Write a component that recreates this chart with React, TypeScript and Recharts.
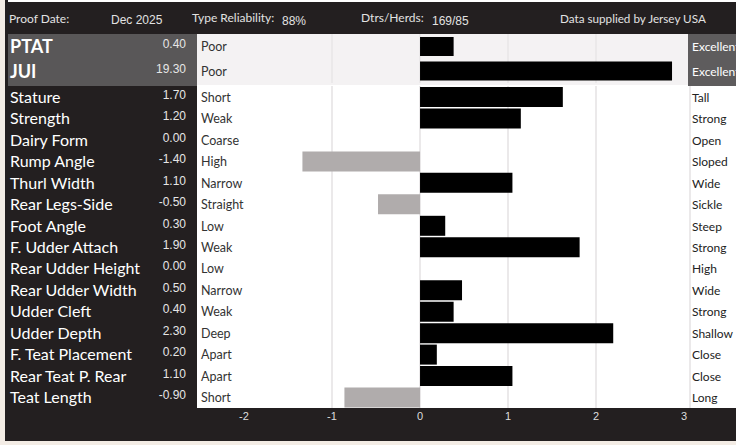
import React from "react";
import { BarChart, Bar, XAxis, YAxis, CartesianGrid, Cell } from "recharts";

// top summary rows
const summaryNames = ["PTAT", "JUI"];
const summaryValues = [0.4, 19.3];
const summaryLow = ["Poor", "Poor"];
const summaryHigh = ["Excellent", "Excellent"];

// linear type traits
const traitNames = [
  "Stature", "Strength", "Dairy Form", "Rump Angle", "Thurl Width", "Rear Legs-Side",
  "Foot Angle", "F. Udder Attach", "Rear Udder Height", "Rear Udder Width", "Udder Cleft",
  "Udder Depth", "F. Teat Placement", "Rear Teat P. Rear", "Teat Length",
];
const traitValues = [1.7, 1.2, 0.0, -1.4, 1.1, -0.5, 0.3, 1.9, 0.0, 0.5, 0.4, 2.3, 0.2, 1.1, -0.9];
const traitLow = [
  "Short", "Weak", "Coarse", "High", "Narrow", "Straight", "Low", "Weak", "Low",
  "Narrow", "Weak", "Deep", "Apart", "Apart", "Short",
];
const traitHigh = [
  "Tall", "Strong", "Open", "Sloped", "Wide", "Sickle", "Steep", "Strong", "High",
  "Wide", "Strong", "Shallow", "Close", "Close", "Long",
];
const axisTicks = [-2, -1, 0, 1, 2, 3];
const gridValues = [-1, 0, 1, 2];

const BAR_CAP = 3;
const BAR_DOMAIN: [number, number] = [-2.655, 3.202];
const GRID_DOMAIN: [number, number] = [-2.534, 3.057];

const LATO = "Lato, sans-serif";
const ARIAL = "'Liberation Sans', Arial, sans-serif";
const DARK = "#231f20";
const GRID = "#ebe9ea";

const toRows = (names: string[], values: number[]) =>
  names.map((name, i) => ({ name, value: values[i], bar: Math.min(values[i], BAR_CAP) }));

const summaryRows = toRows(summaryNames, summaryValues);
const traitRows = toRows(traitNames, traitValues);

function makeTick(names: string[], values: number[], lows: string[], highs: string[], big: boolean) {
  return (props: any) => {
    const { y, payload } = props;
    const i = payload.index;
    return (
      <g>
        <text x={10} y={y} dy={big ? 7 : 6} fill="#fff" fontFamily={LATO}
          fontSize={big ? 18 : 16} fontWeight={big ? 700 : 400}>
          {names[i]}
        </text>
        <text x={186} y={y} dy={2} textAnchor="end" fill="#e6e6e6" fontFamily={ARIAL} fontSize={12}>
          {values[i].toFixed(2)}
        </text>
        <text x={201} y={y} dy={5} fill="#333" fontFamily={LATO} fontSize={12.5}>
          {lows[i]}
        </text>
        <text x={692} y={y} dy={5} fill={big ? "#fff" : "#222"} fontFamily={LATO} fontSize={12}>
          {highs[i]}
        </text>
      </g>
    );
  };
}

function TraitChart({ rows, names, values, lows, highs, big, height, showAxis }: any) {
  return (
    <BarChart
      layout="vertical"
      width={736}
      height={height}
      data={rows}
      margin={{ top: 0, right: 47, bottom: 0, left: 0 }}
      barCategoryGap={0}
    >
      <CartesianGrid
        horizontal={false}
        xAxisId="grid"
        yAxisId="left"
        verticalValues={gridValues}
        stroke={GRID}
        strokeWidth={2}
      />
      <XAxis xAxisId="bar" orientation="top" height={0} type="number" domain={BAR_DOMAIN} allowDataOverflow hide />
      <XAxis
        xAxisId="grid"
        type="number"
        domain={GRID_DOMAIN}
        ticks={axisTicks}
        allowDataOverflow
        hide={!showAxis}
        height={showAxis ? 33 : 0}
        axisLine={false}
        tickLine={false}
        tickSize={0}
        tickMargin={4}
        tick={{ fill: "#dddddd", fontSize: 11, fontFamily: ARIAL }}
      />
      <YAxis
        yAxisId="left"
        type="category"
        dataKey="name"
        width={197}
        interval={0}
        axisLine={false}
        tickLine={false}
        tick={makeTick(names, values, lows, highs, big)}
      />
      <Bar dataKey="bar" xAxisId="bar" yAxisId="left" barSize={big ? 19 : 20} isAnimationActive={false}>
        {rows.map((r: any, i: number) => (
          <Cell key={i} fill={r.value < 0 ? "#b0acac" : "#000000"} />
        ))}
      </Bar>
    </BarChart>
  );
}

const abs = (s: React.CSSProperties): React.CSSProperties => ({ position: "absolute", ...s });

export default function App() {
  const head = (text: string, left: number, center: number, font: string, size: number) => (
    <div style={abs({ left, top: center - 9, lineHeight: "18px", fontSize: size, fontFamily: font, color: "#e2e2e2", whiteSpace: "nowrap" })}>
      {text}
    </div>
  );
  return (
    <div style={abs({ left: 0, top: 0, width: 736, height: 445, overflow: "hidden", background: "#f3ece5" })}>
      <div style={abs({ left: 5, top: 0, width: 731, height: 441, background: DARK })} />
      <div style={abs({ left: 8, top: 0, width: 728, height: 2, background: "#fff" })} />
      {head("Proof Date:", 9, 19, LATO, 12)}
      {head("Dec 2025", 111, 20, ARIAL, 12)}
      {head("Type Reliability:", 192, 18, LATO, 12)}
      {head("88%", 282, 21, ARIAL, 12)}
      {head("Dtrs/Herds:", 361, 18, LATO, 12)}
      {head("169/85", 432, 21, ARIAL, 12)}
      {head("Data supplied by Jersey USA", 560, 18, LATO, 11.7)}

      <div style={abs({ left: 8, top: 34, width: 189, height: 52, background: "#595758" })} />
      <div style={abs({ left: 197, top: 34, width: 492, height: 51, background: "#f4f2f3" })} />
      <div style={abs({ left: 197, top: 85, width: 492, height: 323, background: "#fff" })} />
      <div style={abs({ left: 688, top: 34, width: 48, height: 52, background: "#5e5c5d" })} />
      <div style={abs({ left: 689, top: 86, width: 47, height: 322, background: "#fff", borderLeft: `2px solid ${GRID}`, boxSizing: "border-box" })} />

      <div style={abs({ left: 0, top: 34 })}>
        <TraitChart rows={summaryRows} names={summaryNames} values={summaryValues}
          lows={summaryLow} highs={summaryHigh} big height={49} showAxis={false} />
      </div>
      <div style={abs({ left: 0, top: 86 })}>
        <TraitChart rows={traitRows} names={traitNames} values={traitValues}
          lows={traitLow} highs={traitHigh} big={false} height={355} showAxis />
      </div>
    </div>
  );
}
